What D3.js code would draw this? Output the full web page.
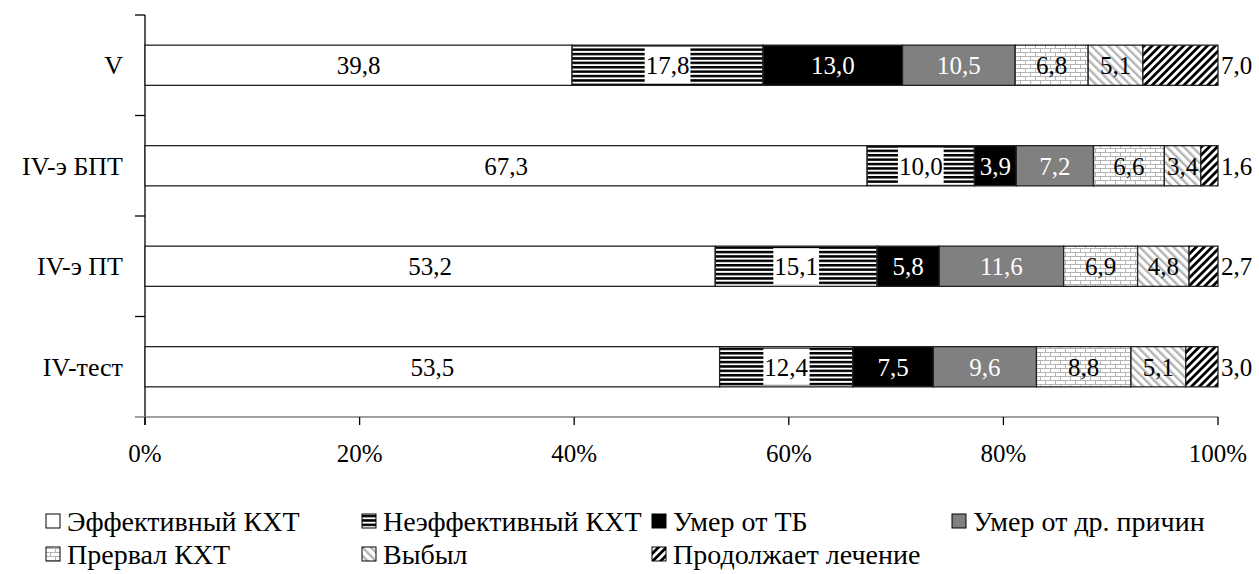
<!DOCTYPE html>
<html><head><meta charset="utf-8">
<script src="https://cdn.jsdelivr.net/npm/d3@7"></script>
</head>
<body style="margin:0;background:#fff">
<svg id="chart" width="1259" height="574"></svg>
<script>
const categories = ["V", "IV-э БПТ", "IV-э ПТ", "IV-тест"];
const seriesNames = ["Эффективный КХТ", "Неэффективный КХТ", "Умер от ТБ", "Умер от др. причин", "Прервал КХТ", "Выбыл", "Продолжает лечение"];
const effective   = [39.8, 67.3, 53.2, 53.5];
const ineffective = [17.8, 10.0, 15.1, 12.4];
const diedTB      = [13.0, 3.9, 5.8, 7.5];
const diedOther   = [10.5, 7.2, 11.6, 9.6];
const interrupted = [6.8, 6.6, 6.9, 8.8];
const droppedOut  = [5.1, 3.4, 4.8, 5.1];
const continuing  = [7.0, 1.6, 2.7, 3.0];
const xTicks = [0, 0.2, 0.4, 0.6, 0.8, 1.0];

const seriesValues = [effective, ineffective, diedTB, diedOther, interrupted, droppedOut, continuing];
const keys = seriesNames;
const rows = categories.map((c, i) => {
  const r = {cat: c};
  keys.forEach((k, j) => r[k] = seriesValues[j][i]);
  return r;
});

const FONT = "Liberation Serif";
const FS = 25;
const LFS = 28;
const svg = d3.select("#chart");
const defs = svg.append("defs");

let p = defs.append("pattern").attr("id", "hstripe").attr("patternUnits", "userSpaceOnUse")
  .attr("width", 8).attr("height", 4.4);
p.append("rect").attr("width", 8).attr("height", 4.4).attr("fill", "#fff");
p.append("rect").attr("width", 8).attr("height", 2.5).attr("fill", "#000");

p = defs.append("pattern").attr("id", "brick").attr("patternUnits", "userSpaceOnUse")
  .attr("width", 10).attr("height", 8);
p.append("rect").attr("width", 10).attr("height", 8).attr("fill", "#fff");
p.append("path").attr("d", "M0,0.5H10M0,4.5H10M0.5,0.5V4.5M5.5,4.5V8")
  .attr("stroke", "#b4b4b4").attr("stroke-width", 1).attr("fill", "none");

p = defs.append("pattern").attr("id", "diagGray").attr("patternUnits", "userSpaceOnUse")
  .attr("width", 6).attr("height", 6).attr("patternTransform", "rotate(-45)");
p.append("rect").attr("width", 6).attr("height", 6).attr("fill", "#fff");
p.append("rect").attr("width", 2.4).attr("height", 6).attr("fill", "#b4b4b4");

p = defs.append("pattern").attr("id", "diagBlack").attr("patternUnits", "userSpaceOnUse")
  .attr("width", 5.6).attr("height", 5.6).attr("patternTransform", "rotate(45)");
p.append("rect").attr("width", 5.6).attr("height", 5.6).attr("fill", "#fff");
p.append("rect").attr("width", 2.8).attr("height", 5.6).attr("fill", "#000");

const fills = ["#ffffff", "url(#hstripe)", "#000000", "#808080", "url(#brick)", "url(#diagGray)", "url(#diagBlack)"];
const labelColors = ["#000", "#000", "#fff", "#fff", "#000", "#000", "#000"];

const x = d3.scaleLinear().domain([0, 1]).range([145, 1218]);
const y = d3.scaleBand().domain(categories).range([15, 417]).paddingInner(0.6).paddingOuter(0.3);

const stacked = d3.stack().keys(keys).offset(d3.stackOffsetExpand)(rows);

// axes
const yAxisG = svg.append("g");
yAxisG.append("line").attr("x1", 145).attr("x2", 145).attr("y1", 15).attr("y2", 425)
  .attr("stroke", "#000").attr("stroke-width", 1.3);
const bounds = categories.map(c => y(c) - y.step() * y.paddingInner() / 2);
bounds.forEach(b => {
  yAxisG.append("line").attr("x1", 135).attr("x2", 145).attr("y1", b).attr("y2", b)
    .attr("stroke", "#000").attr("stroke-width", 1.3);
});
yAxisG.selectAll("text.cat").data(categories).join("text").attr("class", "cat")
  .attr("x", 123).attr("y", d => y(d) + y.bandwidth() / 2).attr("dy", "0.35em")
  .attr("font-family", FONT).attr("text-anchor", "end").attr("font-size", 26).text(d => d);

const xAxisG = svg.append("g");
xAxisG.append("line").attr("x1", 135).attr("x2", 1218).attr("y1", 417).attr("y2", 417)
  .attr("stroke", "#808080").attr("stroke-width", 1.5);
xAxisG.selectAll("line.t").data(xTicks).join("line").attr("class", "t")
  .attr("x1", d => x(d)).attr("x2", d => x(d)).attr("y1", 417).attr("y2", 425)
  .attr("stroke", "#000").attr("stroke-width", 1.3);
xAxisG.selectAll("text.t").data(xTicks).join("text").attr("class", "t")
  .attr("x", d => x(d)).attr("y", 453).attr("dy", "0.35em").attr("text-anchor", "middle")
  .attr("font-family", FONT).attr("font-size", FS).text(d => Math.round(d * 100) + "%");

// bars
const fmt = v => v.toFixed(1).replace(".", ",");
stacked.forEach((s, si) => {
  svg.append("g").selectAll("rect").data(s).join("rect")
    .attr("x", d => x(d[0])).attr("width", d => x(d[1]) - x(d[0]))
    .attr("y", d => y(d.data.cat)).attr("height", y.bandwidth())
    .attr("fill", fills[si]).attr("stroke", "#222").attr("stroke-width", 1.3);
});
stacked.forEach((s, si) => {
  const g = svg.append("g");
  s.forEach(d => {
    const last = si === stacked.length - 1;
    const cx = last ? x(1) + 3 : (x(d[0]) + x(d[1])) / 2;
    const cy = y(d.data.cat) + y.bandwidth() / 2;
    const t = g.append("text").attr("x", cx).attr("y", cy).attr("dy", "0.35em")
      .attr("font-family", FONT)
      .attr("text-anchor", last ? "start" : "middle").attr("font-size", FS)
      .attr("fill", labelColors[si]).text(fmt(d.data[s.key]));
    if (si === 1) {
      const bb = t.node().getBBox();
      g.insert("rect", "text").attr("x", bb.x - 1).attr("y", y(d.data.cat) + 2)
        .attr("width", bb.width + 2).attr("height", y.bandwidth() - 4).attr("fill", "#fff");
    }
  });
});

// legend: 4 columns, 2 rows
const colX = [46, 362, 652, 952];
const rowY = [521, 554];
const lg = svg.append("g");
seriesNames.forEach((n, i) => {
  const lx = colX[i % 4], ly = rowY[Math.floor(i / 4)];
  lg.append("rect").attr("x", lx).attr("y", ly - 7).attr("width", 14).attr("height", 14)
    .attr("fill", fills[i]).attr("stroke", "#000").attr("stroke-width", 1);
  lg.append("text").attr("x", lx + 21).attr("y", ly).attr("dy", "0.35em")
    .attr("font-family", FONT).attr("font-size", LFS).text(n);
});
</script>
</body></html>
